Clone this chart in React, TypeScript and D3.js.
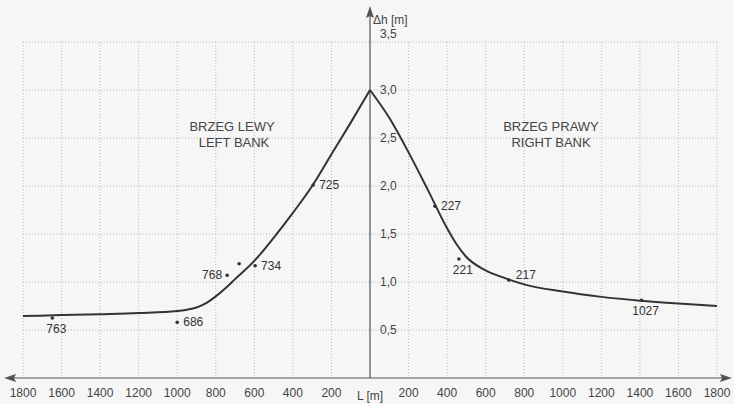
import React from "react";
import * as d3 from "d3";

// curve of Δh vs distance from the axis (left bank negative)
const curveL = [-1800, -1600, -1400, -1200, -1000, -950, -900, -850, -800, -750, -700, -600, -500, -400, -300, -200, -100, 0,
  100, 200, 300, 400, 450, 500, 600, 700, 800, 1000, 1200, 1400, 1600, 1800];
const curveH = [0.645, 0.655, 0.665, 0.677, 0.698, 0.712, 0.735, 0.78, 0.85, 0.935, 1.03, 1.22, 1.46, 1.72, 2.0, 2.33, 2.66, 3.0,
  2.71, 2.35, 1.96, 1.56, 1.39, 1.26, 1.12, 1.04, 0.975, 0.9, 0.845, 0.805, 0.775, 0.75];

// measured points
const pointNames = ["763", "686", "768", "", "734", "725", "227", "221", "217", "1027"];
const pointL = [-1648, -1000, -741, -679, -596, -295, 337, 461, 720, 1409];
const pointH = [0.625, 0.58, 1.07, 1.19, 1.17, 2.01, 1.79, 1.24, 1.02, 0.81];
const labelPos = ["below", "right", "left", "", "right", "right", "right", "below", "rightUp", "below"];

const xTicks = [-1800, -1600, -1400, -1200, -1000, -800, -600, -400, -200, 200, 400, 600, 800, 1000, 1200, 1400, 1600, 1800];
const yTicks = [0.5, 1.0, 1.5, 2.0, 2.5, 3.0, 3.5];

const W = 734;
const H = 404;

const App = () => {
  const x = d3.scaleLinear().domain([-1800, 1800]).range([23, 717]);
  const y = d3.scaleLinear().domain([0, 3.5]).range([378, 42]);

  const line = d3
    .line<[number, number]>()
    .x((d) => x(d[0]))
    .y((d) => y(d[1]))
    .curve(d3.curveMonotoneX);

  const pts: [number, number][] = curveL.map((l, i) => [l, curveH[i]]);
  // two branches so the peak on the axis stays sharp
  const leftBranch = pts.filter((d) => d[0] <= 0);
  const rightBranch = pts.filter((d) => d[0] >= 0);

  const fmtY = (v: number) => d3.format(".1f")(v).replace(".", ",");
  const font = "'Liberation Sans', Arial, sans-serif";
  const x0 = x(0);

  return (
    <svg width={W} height={H} style={{ position: "absolute", left: 0, top: 0 }} fontFamily={font}>
      <rect width={W} height={H} fill="#f6f6f6" />

      {/* grid */}
      <g stroke="#b8b8b8" strokeWidth={1} strokeDasharray="1,2">
        {yTicks.map((t) => (
          <line key={"h" + t} x1={x(-1800)} x2={x(1800)} y1={y(t)} y2={y(t)} />
        ))}
        {xTicks.map((t) => (
          <line key={"v" + t} x1={x(t)} x2={x(t)} y1={y(3.5)} y2={y(0)} />
        ))}
      </g>

      {/* axes */}
      <g stroke="#555" strokeWidth={1.2}>
        <line x1={12} x2={724} y1={y(0)} y2={y(0)} />
        <line x1={x0} x2={x0} y1={14} y2={y(0)} />
      </g>
      <g fill="#555">
        <path d={`M4,${y(0)} L16,${y(0) - 4} L14,${y(0)} L16,${y(0) + 4} Z`} />
        <path d={`M732,${y(0)} L720,${y(0) - 4} L722,${y(0)} L720,${y(0) + 4} Z`} />
        <path d={`M${x0},6 L${x0 - 4},18 L${x0},16 L${x0 + 4},18 Z`} />
      </g>

      {/* tick labels */}
      <g fill="#444" fontSize={12}>
        {xTicks.map((t) => (
          <text key={"xt" + t} x={x(t)} y={397} textAnchor="middle">
            {Math.abs(t)}
          </text>
        ))}
        <text x={x0} y={400} textAnchor="middle">L [m]</text>
        {yTicks.map((t) => (
          <text key={"yt" + t} x={380} y={t === 3.5 ? y(t) - 4 : y(t) + 4}>
            {fmtY(t)}
          </text>
        ))}
        <text x={373} y={24}>Δh [m]</text>
      </g>

      {/* bank labels */}
      <g fill="#444" fontSize={13} textAnchor="middle">
        <text x={232} y={131}>BRZEG LEWY</text>
        <text x={234} y={147}>LEFT BANK</text>
        <text x={551} y={131}>BRZEG PRAWY</text>
        <text x={551} y={147}>RIGHT BANK</text>
      </g>

      {/* curve */}
      <g fill="none" stroke="#333" strokeWidth={2} strokeLinejoin="miter">
        <path d={line(leftBranch) || ""} />
        <path d={line(rightBranch) || ""} />
      </g>

      {/* points */}
      <g fontSize={12} fill="#333">
        {pointL.map((l, i) => {
          const px = x(l);
          const py = y(pointH[i]);
          const pos = labelPos[i];
          let lx = px + 6;
          let ly = py + 4;
          let anchor = "start";
          if (pos === "below") {
            lx = px + 4;
            ly = py + 15;
            anchor = "middle";
          } else if (pos === "left") {
            lx = px - 5;
            anchor = "end";
          } else if (pos === "rightUp") {
            lx = px + 7;
            ly = py - 1;
          }
          return (
            <g key={"p" + i}>
              <circle cx={px} cy={py} r={1.8} fill="#333" />
              {pointNames[i] && (
                <text x={lx} y={ly} textAnchor={anchor}>
                  {pointNames[i]}
                </text>
              )}
            </g>
          );
        })}
      </g>
    </svg>
  );
};

export default App;
